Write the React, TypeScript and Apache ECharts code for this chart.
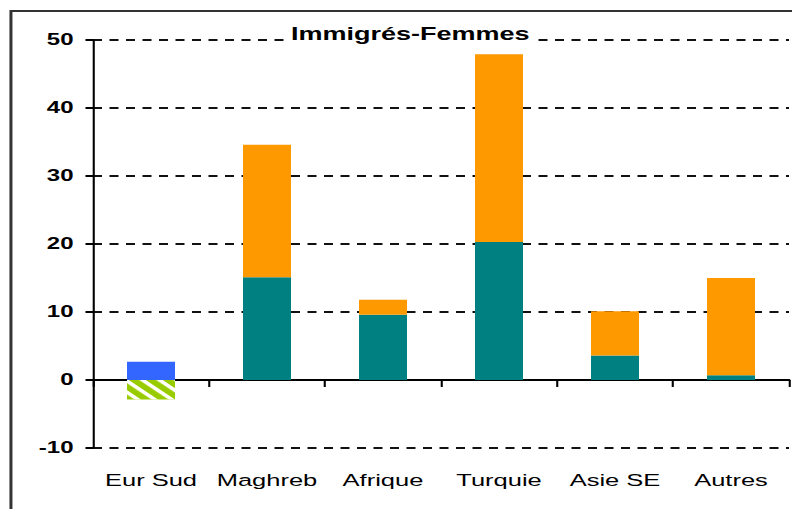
import React, { useEffect, useRef } from "react";
import * as echarts from "echarts";

const categories = ["Eur Sud", "Maghreb", "Afrique", "Turquie", "Asie SE", "Autres"];
const tealValues = [null, 15.1, 9.6, 20.3, 3.6, 0.7];
const orangeValues = [null, 19.5, 2.2, 27.6, 6.5, 14.3];
const blueValues = [2.7, null, null, null, null, null];
const greenValues = [-2.85, null, null, null, null, null];
const yTicks = { min: -10, max: 50, interval: 10 };
const titleText = "Immigrés-Femmes";

const S = 1.5;
const W0 = 792 / S;
const H = 509;
const FONT = "'Liberation Sans', Arial, sans-serif";

export default function App() {
  const ref = useRef<HTMLDivElement>(null);
  useEffect(() => {
    document.body.style.margin = "0";
    document.body.style.overflow = "hidden";
    if (!ref.current) return;
    const chart = echarts.init(ref.current, null, { renderer: "svg" });
    chart.setOption({
      animation: false,
      backgroundColor: "#fff",
      title: {
        text: titleText,
        left: 191,
        top: 23,
        padding: [2, 3, 2, 3],
        backgroundColor: "#fff",
        textStyle: { fontFamily: FONT, fontSize: 18, fontWeight: "bold", color: "#000" },
        z: 10,
      },
      graphic: [
        {
          type: "rect",
          shape: { x: 7.3, y: 11, width: 700, height: 700 },
          style: { fill: "none", stroke: "#333", lineWidth: 2 },
          silent: true,
        },
      ],
      grid: {
        left: 62,
        right: 2,
        top: 40,
        bottom: 61,
        containLabel: false,
        outerBoundsMode: "none",
      },
      xAxis: [
        {
          type: "category",
          data: categories,
          position: "bottom",
          axisLine: { show: false, onZero: false },
          axisTick: { show: false },
          axisLabel: { interval: 0, margin: 24, fontFamily: FONT, fontSize: 17, color: "#000" },
        },
        {
          type: "category",
          data: categories,
          position: "bottom",
          axisLine: { show: true, onZero: true, lineStyle: { color: "#000", width: 2 } },
          axisTick: { show: true, inside: false, length: 7, lineStyle: { color: "#000", width: 1.4 } },
          axisLabel: { show: false },
        },
      ],
      yAxis: {
        type: "value",
        min: yTicks.min,
        max: yTicks.max,
        interval: yTicks.interval,
        axisLine: { show: true, lineStyle: { color: "#000", width: 1.4 } },
        axisTick: { show: true, length: 5, lineStyle: { color: "#000", width: 2 } },
        axisLabel: { margin: 13, fontFamily: FONT, fontSize: 16, fontWeight: "bold", color: "#000" },
        splitLine: { show: true, lineStyle: { color: "#111", width: 2, type: [6, 5] } },
      },
      series: [
        { name: "teal", type: "bar", stack: "a", barWidth: 32, data: tealValues, itemStyle: { color: "#008080" } },
        { name: "orange", type: "bar", stack: "a", barWidth: 32, data: orangeValues, itemStyle: { color: "#FF9900" } },
        { name: "blue", type: "bar", stack: "a", barWidth: 32, data: blueValues, itemStyle: { color: "#3366FF" } },
        {
          name: "green",
          type: "bar",
          stack: "a",
          barWidth: 32,
          data: greenValues,
          itemStyle: {
            color: "#99CC00",
            decal: {
              color: "#ffffff",
              dashArrayX: [1, 0],
              dashArrayY: [3, 5],
              rotation: Math.PI / 4,
              symbolSize: 1,
            },
          },
        },
      ],
    });
    return () => chart.dispose();
  }, []);
  return (
    <div
      ref={ref}
      style={{ width: W0, height: H, transform: `scaleX(${S})`, transformOrigin: "0 0" }}
    />
  );
}
